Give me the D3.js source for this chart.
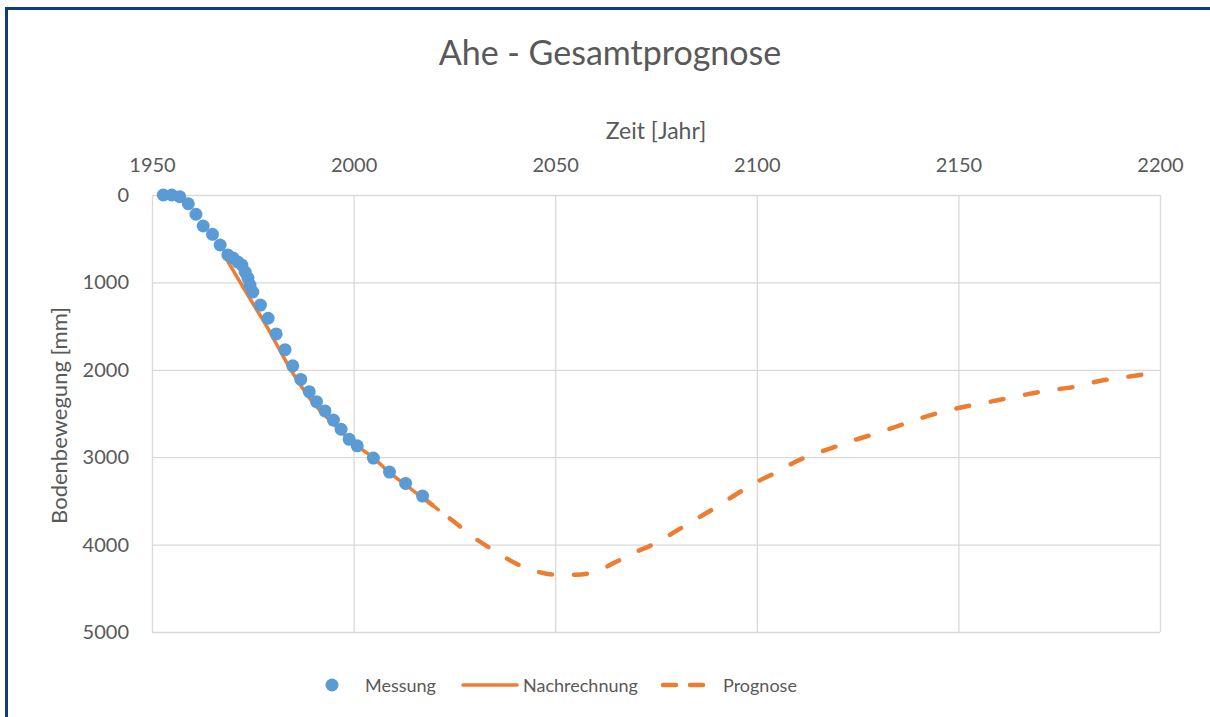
<!DOCTYPE html>
<html>
<head>
<meta charset="utf-8">
<script src="https://cdn.jsdelivr.net/npm/d3@7"></script>
<style>
  body { margin: 0; background: #fff; }
  svg text { font-family: Lato, "Open Sans", sans-serif; fill: #595959; }
  .grid line { stroke: #d9d9d9; stroke-width: 1.3; }
  .grid path { display: none; }
  .axis path, .axis line { display: none; }
</style>
</head>
<body>
<script>
// measured points (year, mm)
var messungYears = [1952.8, 1954.9, 1956.9, 1959, 1960.9, 1962.7, 1965, 1966.9, 1968.8, 1970.1, 1971.3, 1972.3, 1973.1, 1973.8, 1974.3, 1975,
    1976.9, 1978.8, 1980.8, 1983, 1984.9, 1986.9, 1989, 1990.8, 1992.9, 1995, 1996.9, 1998.9, 2000.9, 2004.9, 2008.9, 2012.9, 2017.1];
var messungValues = [0, 0, 20, 100, 220, 355, 450, 572, 686, 721, 767, 801, 881, 950, 1030, 1110,
    1259, 1410, 1590, 1770, 1955, 2110, 2250, 2365, 2470, 2575, 2680, 2795, 2870, 3010, 3170, 3300, 3445];

// back-calculation (solid)
var nachYears = [1968.7, 1971, 1973.5, 1976, 1978.5, 1981, 1983.5, 1986, 1990, 1995, 2000, 2005, 2009, 2013, 2017, 2021];
var nachValues = [750, 930, 1124, 1316, 1506, 1716, 1926, 2117, 2380, 2620, 2840, 3010, 3180, 3320, 3460, 3600];

// forecast (dashed)
var progYears = [2017, 2021, 2025, 2030, 2035, 2040, 2045, 2050, 2055, 2060, 2065, 2070, 2075, 2080, 2085, 2090, 2095,
    2100, 2105, 2110, 2115, 2120, 2125, 2130, 2135, 2140, 2145, 2150, 2155, 2160, 2165, 2170, 2175, 2180, 2185, 2190, 2195, 2200];
var progValues = [3455, 3600, 3741, 3924, 4073, 4211, 4302, 4345, 4345, 4310, 4200, 4085, 3982, 3844, 3707, 3570, 3421,
    3284, 3170, 3043, 2952, 2872, 2792, 2723, 2643, 2563, 2494, 2437, 2391, 2346, 2300, 2254, 2220, 2185, 2128, 2094, 2059, 2037];

var xTicks = [1950, 2000, 2050, 2100, 2150, 2200];
var yTicks = [0, 1000, 2000, 3000, 4000, 5000];
var legendNames = ["Messung", "Nachrechnung", "Prognose"];

var blue = "#5b9bd5", orange = "#ed7d31";

var width = 1210, height = 717;
var margin = {left: 152, top: 195, right: 50, bottom: 85};
var innerW = width - margin.left - margin.right,
    innerH = height - margin.top - margin.bottom;

var svg = d3.select("body").append("svg")
    .attr("width", width)
    .attr("height", height);

// outer frame (left and top edge only visible)
svg.append("rect").attr("x", 5).attr("y", 7).attr("width", 3).attr("height", height - 7).style("fill", "#0e3f7c");
svg.append("rect").attr("x", 5).attr("y", 7).attr("width", width - 5).attr("height", 3).style("fill", "#0e3f7c");

var x = d3.scaleLinear().domain([1950, 2200]).range([0, innerW]);
var y = d3.scaleLinear().domain([0, 5000]).range([0, innerH]);

var g = svg.append("g").attr("transform", "translate(" + margin.left + "," + margin.top + ")");

// gridlines
g.append("g").attr("class", "grid")
    .call(d3.axisLeft(y).tickValues(yTicks).tickSize(-innerW).tickFormat(""));
g.append("g").attr("class", "grid")
    .call(d3.axisTop(x).tickValues(xTicks).tickSize(-innerH).tickFormat(""));

// axes
var xAxis = g.append("g").attr("class", "axis")
    .call(d3.axisTop(x).tickValues(xTicks).tickSize(0).tickPadding(23).tickFormat(d3.format("d")));
xAxis.selectAll("text").style("font-size", "20px").style("fill", "#595959");

var yAxis = g.append("g").attr("class", "axis")
    .call(d3.axisLeft(y).tickValues(yTicks).tickSize(0).tickPadding(23).tickFormat(d3.format("d")));
yAxis.selectAll("text").style("font-size", "20px").style("fill", "#595959");

// titles
svg.append("text").attr("x", 610).attr("y", 65)
    .attr("text-anchor", "middle").style("font-size", "34px")
    .text("Ahe - Gesamtprognose");
svg.append("text").attr("x", 656).attr("y", 139)
    .attr("text-anchor", "middle").style("font-size", "23px")
    .text("Zeit [Jahr]");
svg.append("text")
    .attr("transform", "translate(67," + (margin.top + innerH / 2 + 2) + ") rotate(-90)")
    .attr("text-anchor", "middle").style("font-size", "22px")
    .text("Bodenbewegung [mm]");

var line = d3.line()
    .x(function(d){ return x(d[0]); })
    .y(function(d){ return y(d[1]); })
    .curve(d3.curveMonotoneX);

var nachData = nachYears.map(function(v, i){ return [v, nachValues[i]]; });
var progData = progYears.map(function(v, i){ return [v, progValues[i]]; });
var messData = messungYears.map(function(v, i){ return [v, messungValues[i]]; });

g.append("path").datum(progData)
    .attr("d", line)
    .style("fill", "none").style("stroke", orange).style("stroke-width", 4.5)
    .style("stroke-linecap", "round").style("stroke-dasharray", "13 22");

g.append("path").datum(nachData)
    .attr("d", line)
    .style("fill", "none").style("stroke", orange).style("stroke-width", 3.5)
    .style("stroke-linecap", "round");

g.selectAll(".dot")
    .data(messData)
    .enter()
    .append("circle")
    .attr("class", "dot")
    .attr("cx", function(d){ return x(d[0]); })
    .attr("cy", function(d){ return y(d[1]); })
    .attr("r", 6.5)
    .style("fill", blue);

// legend
var legend = svg.append("g").attr("transform", "translate(0,685)");
legend.append("circle").attr("cx", 332).attr("cy", 0).attr("r", 6.5).style("fill", blue);
legend.append("line").attr("x1", 463).attr("x2", 517).attr("y1", 0).attr("y2", 0)
    .style("stroke", orange).style("stroke-width", 3.5).style("stroke-linecap", "round");
legend.append("line").attr("x1", 663).attr("x2", 705).attr("y1", 0).attr("y2", 0)
    .style("stroke", orange).style("stroke-width", 4.5).style("stroke-linecap", "round")
    .style("stroke-dasharray", "13 14");
var legendX = [365, 523, 723];
legend.selectAll(".ltext")
    .data(legendNames)
    .enter()
    .append("text")
    .attr("class", "ltext")
    .attr("x", function(d, i){ return legendX[i]; })
    .attr("y", 7)
    .style("font-size", "18px")
    .text(function(d){ return d; });
</script>
</body>
</html>
